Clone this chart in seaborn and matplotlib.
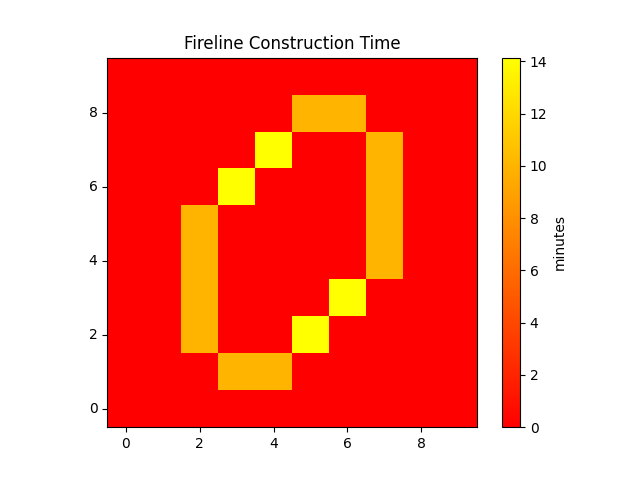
import numpy as np
import seaborn as sns
import matplotlib
matplotlib.use("Agg")
import matplotlib.pyplot as plt

# fireline construction time per cell (minutes), row index = y (bottom to top)
d = 14.14  # diagonal step
o = 10.0   # orthogonal step
rows = [
    [0, 0, 0, 0, 0, 0, 0, 0, 0, 0],
    [0, 0, 0, o, o, 0, 0, 0, 0, 0],
    [0, 0, o, 0, 0, d, 0, 0, 0, 0],
    [0, 0, o, 0, 0, 0, d, 0, 0, 0],
    [0, 0, o, 0, 0, 0, 0, o, 0, 0],
    [0, 0, o, 0, 0, 0, 0, o, 0, 0],
    [0, 0, 0, d, 0, 0, 0, o, 0, 0],
    [0, 0, 0, 0, d, 0, 0, o, 0, 0],
    [0, 0, 0, 0, 0, o, o, 0, 0, 0],
    [0, 0, 0, 0, 0, 0, 0, 0, 0, 0],
]
tick_vals = [0, 2, 4, 6, 8]

grid = np.array(rows)

fig, ax = plt.subplots(figsize=(6.4, 4.8), dpi=100)
sns.heatmap(grid, cmap="autumn", square=True, ax=ax,
            cbar_kws={"label": "minutes", "ticks": range(0, 16, 2)})
ax.invert_yaxis()
for s in ax.spines.values():
    s.set_visible(True)
    s.set_linewidth(0.8)
ax.set_xticks([t + 0.5 for t in tick_vals])
ax.set_xticklabels(tick_vals, rotation=0)
ax.set_yticks([t + 0.5 for t in tick_vals])
ax.set_yticklabels(tick_vals, rotation=0)
ax.tick_params(length=3.5, width=0.8)
ax.set_title("Fireline Construction Time")
cb = ax.collections[0].colorbar
cb.outline.set_visible(True)
cb.outline.set_linewidth(0.8)
cb.ax.tick_params(length=3.5, width=0.8)

plt.savefig("out.png")
